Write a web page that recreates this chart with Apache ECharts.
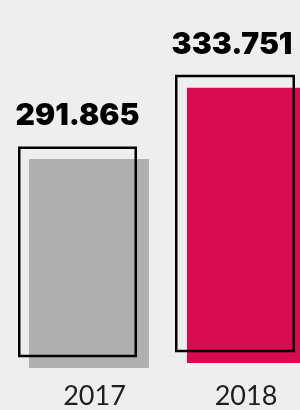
<!DOCTYPE html>
<html><head><meta charset="utf-8">
<script src="https://cdn.jsdelivr.net/npm/echarts@6/dist/echarts.min.js"></script>
<style>html,body{margin:0;padding:0;background:#eeeeee;}#c{width:300px;height:410px;}</style>
</head><body><div id="c"></div>
<script>
var years = ['2017', '2018'];
var values = [291.865, 333.751];
var valueLabels = ['291.865', '333.751'];
var fillColors = ['#b0afad', '#d80b50'];

// layout per bar (pixels)
var fillBoxes = [{left: 29, width: 120, bottom: 42}, {left: 187, width: 120, bottom: 47}];
var outlineBoxes = [{left: 18, width: 119, bottom: 54}, {left: 175, width: 120, bottom: 59}];
var labelShift = [[0, 0], [-3, 0]];
var yearBoxes = [{left: 64.5, width: 60}, {left: 216, width: 60}];
var AX_MIN = 160, AX_MAX = 350;

var grids = [], xAxes = [], yAxes = [], series = [];
function addGrid(box, h, cat) {
  var gi = grids.length;
  grids.push({left: box.left, width: box.width, bottom: box.bottom, height: h, containLabel: false});
  xAxes.push({type: 'category', gridIndex: gi, data: [cat], show: false});
  yAxes.push({type: 'value', gridIndex: gi, min: AX_MIN, max: AX_MAX, show: false});
  return gi;
}
years.forEach(function (y, i) {
  var g = addGrid(fillBoxes[i], 301, y);
  series.push({type: 'bar', xAxisIndex: g, yAxisIndex: g, data: [values[i]], barWidth: '100%',
    itemStyle: {color: fillColors[i]}, silent: true, animation: false});
});
years.forEach(function (y, i) {
  var g = addGrid(outlineBoxes[i], 302, y);
  series.push({type: 'bar', xAxisIndex: g, yAxisIndex: g, data: [values[i]], barWidth: '100%',
    itemStyle: {color: 'rgba(0,0,0,0)', borderColor: '#000', borderWidth: 2.5}, silent: true, animation: false,
    label: {show: true, position: 'top', distance: 15, offset: labelShift[i], formatter: function () { return valueLabels[i]; },
      color: '#000', fontFamily: 'Inter', fontWeight: 900, fontSize: 30, lineHeight: 30}});
});
// year labels
years.forEach(function (y, i) {
  var gi = grids.length;
  grids.push({left: yearBoxes[i].left, width: yearBoxes[i].width, bottom: 40, height: 10});
  xAxes.push({type: 'category', gridIndex: gi, data: [y], axisLine: {show: false}, axisTick: {show: false},
    axisLabel: {margin: 18, color: '#1e1e1e', fontFamily: 'Lato', fontWeight: 400, fontSize: 27, verticalAlign: 'top', lineHeight: 27}});
  yAxes.push({type: 'value', gridIndex: gi, show: false});
});

var chart = echarts.init(document.getElementById('c'), null, {renderer: 'canvas'});
chart.setOption({backgroundColor: '#eeeeee', animation: false, grid: grids, xAxis: xAxes, yAxis: yAxes, series: series});
</script></body></html>
